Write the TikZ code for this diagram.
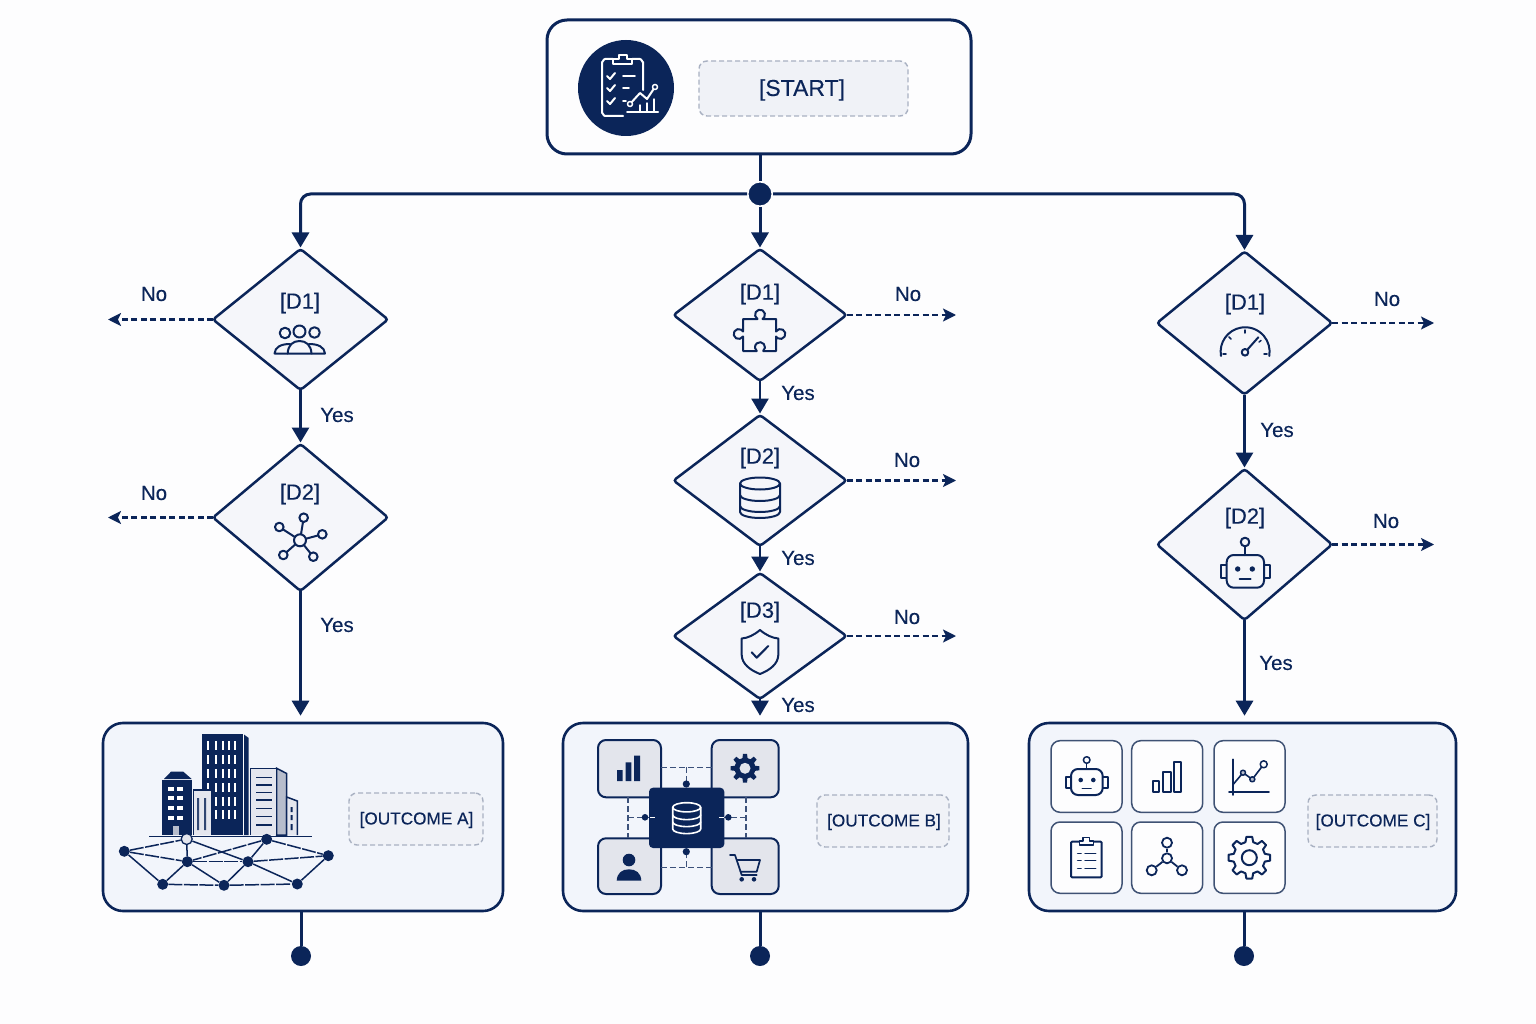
\documentclass[tikz,border=0pt]{standalone}
\usepackage{fontspec}
\setmainfont{Liberation Sans}[FakeBold=0.25]
\usetikzlibrary{shapes.geometric,arrows.meta,calc}
\definecolor{navy}{HTML}{0B2559}
\definecolor{soft}{HTML}{3F5274}
\definecolor{bg}{HTML}{FDFDFE}
\definecolor{dfill}{HTML}{F5F6FA}
\definecolor{ofill}{HTML}{F2F5FB}
\definecolor{lfill}{HTML}{F0F2F7}
\definecolor{dash}{HTML}{A9B1C2}
\definecolor{tile}{HTML}{E3E5EC}
\definecolor{lite}{HTML}{E4E6EE}
\definecolor{side}{HTML}{B7BDCC}
\tikzset{
 dia/.style={shape=diamond,draw=navy,fill=dfill,line width=2.5pt,inner sep=0pt,outer sep=0pt,rounded corners=3pt},
 flow/.style={draw=navy,line width=3pt},
 yesarrow/.style={flow,-{Triangle[length=15pt,width=17pt]}},
 noarrow/.style={draw=navy,line width=2.2pt,dash pattern=on 6pt off 3.5pt,-{Stealth[length=13pt,width=13pt,inset=3pt]}},
 dlabel/.style={text=navy,font=\fontsize{22}{26}\selectfont,inner sep=0pt},
 yn/.style={text=navy,font=\fontsize{20.5}{24}\selectfont,inner sep=0pt},
 phold/.style={draw=dash,fill=lfill,line width=1.4pt,dash pattern=on 5pt off 3pt,rounded corners=8pt,inner sep=0pt},
 ptext/.style={text=navy,inner sep=0pt,font=\fontsize{17.2}{21}\selectfont},
 outbox/.style={draw=navy,fill=ofill,line width=2.6pt,rounded corners=20pt,inner sep=0pt},
 dot/.style={circle,fill=navy,inner sep=0pt,outer sep=0pt,minimum size=20pt},
 ic/.style={draw=navy,line width=2pt,line cap=round,line join=round},
 icw/.style={draw=white,line width=2pt,line cap=round,line join=round},
 nd/.style={circle,fill=navy,inner sep=0pt,minimum size=11pt},
 nl/.style={draw=navy,line width=1.5pt},
 nld/.style={nl,dash pattern=on 14pt off 1.5pt},
 win/.style={fill=white,draw=none},
 tilea/.style={draw=navy,fill=tile,line width=2pt,rounded corners=8pt},
 tileb/.style={draw=soft,fill=bg,line width=1.5pt,rounded corners=9pt},
 link/.style={draw=navy!80,line width=1.1pt,dash pattern=on 6pt off 3pt},
}
\begin{document}
\begin{tikzpicture}[x=1pt,y=-1pt]
\useasboundingbox (0,0) rectangle (1536,1024);
\fill[bg] (0,0) rectangle (1536,1024);

% ---------- start
\node[draw=navy,fill=bg,line width=3pt,rounded corners=20pt,minimum width=424pt,minimum height=134pt,inner sep=0pt] (start) at (759,87) {};
\node[circle,fill=navy,minimum size=96pt,inner sep=0pt] (sicon) at (626,88) {};
\node[phold,minimum width=209pt,minimum height=55pt] (slabel) at (803.5,88.5) {};
\node[ptext,font=\fontsize{23}{27}\selectfont] (stext) at (802,90) {[START]};
% clipboard icon
\draw[icw] (643,90) -- (643,62) to[out=-90,in=0] (640,59) -- (632,59);
\draw[icw] (613,59) -- (605,59) to[out=180,in=-90] (602,62) -- (602,113) to[out=90,in=180] (605,116) -- (623,116);
\draw[icw,fill=navy] (613,64) -- (613,59) -- (619,59) -- (619,55) -- (627,55) -- (627,59) -- (632,59) -- (632,64) -- cycle;
\foreach \yy/\len in {76/12,88/6,101/3}{
 \draw[icw] (607,\yy) -- (610,\yy+3) -- (615,\yy-3);
 \draw[icw,line width=1.6pt] (623,\yy) -- ++(\len,0);
}
\draw[icw] (630,104) -- (640,93) -- (647,99) -- (655,87);
\draw[icw,fill=navy,line width=1.5pt] (630,104) circle[radius=2.5pt] (655,87) circle[radius=2.5pt];
\draw[icw] (627,112) -- (658,112);
\draw[icw,line width=1.4pt] (640,112) -- (640,105) (647,112) -- (647,103) (654,112) -- (654,99);

% ---------- diamonds
\node[dia,minimum width=175pt,minimum height=141pt] (la) at (300.5,319.5) {};
\node[dia,minimum width=175pt,minimum height=147pt] (lb) at (300.5,517.5) {};
\node[dia,minimum width=173pt,minimum height=132pt] (ma) at (760,315) {};
\node[dia,minimum width=173pt,minimum height=131pt] (mb) at (760,480.5) {};
\node[dia,minimum width=173pt,minimum height=126pt] (mc) at (760,636) {};
\node[dia,minimum width=175pt,minimum height=143pt] (ra) at (1244.5,323) {};
\node[dia,minimum width=175pt,minimum height=151pt] (rb) at (1244.5,544.5) {};

\node[dlabel] (tla) at (300,303) {[D1]};
\node[dlabel] (tlb) at (300,494) {[D2]};
\node[dlabel] (tma) at (760,294) {[D1]};
\node[dlabel] (tmb) at (760,458) {[D2]};
\node[dlabel] (tmc) at (760,612) {[D3]};
\node[dlabel] (tra) at (1245,304) {[D1]};
\node[dlabel] (trb) at (1245,518) {[D2]};

% ---------- outcomes
\node[outbox,minimum width=400pt,minimum height=188pt] (oa) at (303,817) {};
\node[outbox,minimum width=405pt,minimum height=188pt] (ob) at (765.5,817) {};
\node[outbox,minimum width=427pt,minimum height=188pt] (oc) at (1242.5,817) {};
\node[phold,minimum width=134pt,minimum height=52pt] (pa) at (416,819) {};
\node[phold,minimum width=132pt,minimum height=52pt] (pb) at (883,821) {};
\node[phold,minimum width=129pt,minimum height=52pt] (pc) at (1372.5,821) {};
\node[ptext] (qa) at (416.5,820) {[OUTCOME A]};
\node[ptext] (qb) at (884,822) {[OUTCOME B]};
\node[ptext] (qc) at (1373,822) {[OUTCOME C]};

% ---------- junction and terminals
\node[circle,fill=navy,draw=bg,line width=3pt,minimum size=26pt,inner sep=0pt,outer sep=0pt] (j) at (760,194) {};
\node[dot] (ta) at (301,956) {};
\node[dot] (tb) at (760,956) {};
\node[dot] (tc) at (1244,956) {};

% ---------- connectors
\draw[flow] (start.south -| j) -- (j);
\draw[yesarrow,rounded corners=10pt,shorten >=1.5pt] (j) -| (la.north);
\draw[yesarrow,shorten >=1.5pt] (j) -- (ma.north);
\draw[yesarrow,rounded corners=10pt,shorten >=1.5pt] (j) -| (ra.north);
\draw[yesarrow,shorten >=1.5pt] (la.south) -- (lb.north);
\draw[yesarrow,shorten >=6pt] (lb.south) -- (oa.north -| lb.south);
\draw[yesarrow,line width=2.6pt,shorten >=1.5pt] (ma.south) -- (mb.north);
\draw[yesarrow,line width=2.6pt,shorten >=1.5pt] (mb.south) -- (mc.north);
\draw[yesarrow,line width=2.6pt,shorten >=6pt] (mc.south) -- (ob.north -| mc.south);
\draw[yesarrow,shorten >=1.5pt] (ra.south) -- (rb.north);
\draw[yesarrow,shorten >=6pt] (rb.south) -- (oc.north -| rb.south);
\draw[flow] (oa.south -| ta) -- (ta);
\draw[flow] (ob.south -| tb) -- (tb);
\draw[flow] (oc.south -| tc) -- (tc);

\coordinate (nla) at (108,319.5);
\coordinate (nlb) at (108,517.5);
\coordinate (nma) at (956,315);
\coordinate (nmb) at (956,480.5);
\coordinate (nmc) at (956,636);
\coordinate (nra) at (1434,323);
\coordinate (nrb) at (1434,544.5);
\draw[noarrow] (la.west) -- (nla);
\draw[noarrow] (lb.west) -- (nlb);
\draw[noarrow] (ma.east) -- (nma);
\draw[noarrow] (mb.east) -- (nmb);
\draw[noarrow] (mc.east) -- (nmc);
\draw[noarrow] (ra.east) -- (nra);
\draw[noarrow] (rb.east) -- (nrb);

\node[yn] (n1) at (154,294) {No};
\node[yn] (n2) at (154,493) {No};
\node[yn] (n3) at (908,294) {No};
\node[yn] (n4) at (907,460) {No};
\node[yn] (n5) at (907,617) {No};
\node[yn] (n6) at (1387,299) {No};
\node[yn] (n7) at (1386,521) {No};
\node[yn] (y1) at (337,415) {Yes};
\node[yn] (y2) at (337,625) {Yes};
\node[yn] (y3) at (798,393) {Yes};
\node[yn] (y4) at (798,558) {Yes};
\node[yn] (y5) at (798,705) {Yes};
\node[yn] (y6) at (1277,430) {Yes};
\node[yn] (y7) at (1276,663) {Yes};

% ---------- diamond icons
% people
\draw[ic] (285,333) circle[radius=5.3pt] (299.5,331.5) circle[radius=6pt] (314.5,332.5) circle[radius=5.3pt];
\draw[ic] (287.7,353.5) -- (274.5,353.5) .. controls (275,347) and (281,344) .. (290,344);
\draw[ic] (311.5,353.5) -- (325,353.5) .. controls (324.5,347) and (318,344) .. (309,344);
\draw[ic] (287.7,353.5) .. controls (288,345) and (293,341) .. (299.5,341) .. controls (306,341) and (311,345) .. (311.5,353.5) -- cycle;
% network
\foreach \xx/\yy in {303.7/517.7,279.3/527,322.3/534.3,283.3/555,313.3/556.7}{
 \draw[ic] (300,540.3) -- (\xx,\yy);
 \draw[ic,fill=dfill] (\xx,\yy) circle[radius=4.3pt];
}
\draw[ic,fill=dfill] (300,540.3) circle[radius=6pt];
% puzzle
\draw[ic] (743,319) -- (757.5,319) arc[start angle=240,end angle=-60,radius=5pt] -- (776,319) -- (776,331.5) arc[start angle=150,end angle=-150,radius=5pt] -- (776,351) -- (763.2,351) arc[start angle=-50,end angle=230,radius=5pt] -- (743,351) -- (743,336.5) arc[start angle=-30,end angle=-330,radius=5pt] -- cycle;
% database
\draw[ic] (760,483.5) ellipse[x radius=20pt,y radius=6pt];
\draw[ic] (740,483.5) -- (740,512) arc[start angle=180,end angle=360,x radius=20pt,y radius=6pt] -- (780,483.5);
\draw[ic] (740,495) arc[start angle=180,end angle=360,x radius=20pt,y radius=6pt];
\draw[ic] (740,506) arc[start angle=180,end angle=360,x radius=20pt,y radius=6pt];
% shield
\draw[ic] (760,630) .. controls (754,635) and (748,638) .. (741.7,638.5) -- (741.7,655) .. controls (742,664) and (750,670) .. (760,674) .. controls (770,670) and (778,664) .. (778.3,655) -- (778.3,638.5) .. controls (772,638) and (766,635) .. (760,630) -- cycle;
\draw[ic] (751.7,652.3) -- (756.7,657.7) -- (768.3,646);
% gauge
\draw[ic] (1221,356) arc[start angle=190,end angle=-10,radius=24.5pt];
\draw[ic,line width=1.5pt] (1245,330) -- (1245,333);
\draw[ic,line width=1.5pt] (1229,337) -- (1231,339);
\draw[ic,line width=1.5pt] (1261,340.5) -- (1259,342);
\draw[ic,line width=1.5pt] (1223,354) -- (1226,354) (1267,354) -- (1264,354);
\draw[ic] (1245,352.3) -- (1258.3,337.3);
\draw[ic,fill=dfill] (1245,352.3) circle[radius=3.3pt];
% robot
\draw[ic,fill=dfill] (1221,565) rectangle (1270,577.7);
\draw[ic,fill=dfill,rounded corners=7pt] (1226.7,555) rectangle (1264,587.7);
\draw[ic] (1245,555) -- (1245,546);
\draw[ic,fill=dfill] (1245,542) circle[radius=4.3pt];
\fill[navy] (1237.7,569) circle[radius=2.7pt] (1252.3,569) circle[radius=2.7pt];
\draw[ic] (1239.5,579) -- (1250.7,579);

% ---------- outcome A
\fill[navy] (202,734) rectangle (243.3,835);
\fill[navy] (243.3,734) -- (248.7,738) -- (248.7,835) -- (243.3,835) -- cycle;
\draw[bg,line width=.8pt] (243.3,734) -- (243.3,835);
\foreach \xx in {208.3,215.7,222.7,229,235}
 \foreach \yy in {741,755,769,783,797,810}
  \fill[win] (\xx-1,\yy) rectangle (\xx+1,\yy+9);
\fill[navy] (164,779) -- (171,771.7) -- (183.3,771.7) -- (191.7,779) -- cycle;
\fill[navy] (162.3,780) rectangle (191.7,835);
\foreach \yy in {786.5,796,805.5,815.5}{
 \fill[win] (168.3,\yy) rectangle (174,\yy+4);
 \fill[win] (177.3,\yy) rectangle (183.3,\yy+4);
}
\fill[side] (173.3,826) rectangle (179.3,835);
\draw[navy,line width=1.5pt,fill=lite] (193.3,835) -- (193.3,790) -- (211.7,790) -- (211.7,835);
\fill[navy!85] (197,798) rectangle (199,830) (204,798) rectangle (206,830);
\draw[navy,line width=1.5pt,fill=side] (276.7,768.3) -- (286.7,773.5) -- (286.7,835) -- (276.7,835) -- cycle;
\draw[navy,line width=1.5pt,fill=lite] (250.7,835) -- (250.7,768.3) -- (276.7,768.3) -- (276.7,835);
\foreach \yy in {777.3,785,792.7,800,808.3,816.7,825}
 \draw[navy,line width=1.5pt] (256,\yy) -- (271.7,\yy);
\draw[navy,line width=1.5pt,fill=lite] (286.7,835) -- (286.7,797) -- (297.3,801) -- (297.3,835);
\fill[navy] (290.5,807) rectangle (292.5,812) (290.5,815) rectangle (292.5,820) (290.5,824) rectangle (292.5,830);
\draw[navy,line width=1.5pt] (149.3,836.3) -- (311.7,836.3);

\node[nd] (g1) at (124.3,851.3) {};
\node[circle,draw=navy,fill=lite,line width=1.3pt,inner sep=0pt,minimum size=11pt] (g2) at (186.7,839) {};
\node[nd] (g3) at (266.7,839.3) {};
\node[nd] (g4) at (328.3,855.7) {};
\node[nd] (g5) at (187.3,861.7) {};
\node[nd] (g6) at (248,861.7) {};
\node[nd] (g7) at (162.7,884.3) {};
\node[nd] (g8) at (224,885.3) {};
\node[nd] (g9) at (297.3,884) {};
\draw[nld] (g1) -- (g2);
\draw[nld] (g1) -- (g5);
\draw[nl] (g1) -- (g7);
\draw[nl] (g2) -- (g5);
\draw[nl] (g2) -- (g6);
\draw[nld] (g3) -- (g5);
\draw[nl] (g3) -- (g6);
\draw[nld] (g3) -- (g4);
\draw[nld] (g5) -- (g6);
\draw[nld] (g6) -- (g4);
\draw[nl] (g5) -- (g7);
\draw[nl] (g5) -- (g8);
\draw[nl] (g6) -- (g8);
\draw[nl] (g6) -- (g9);
\draw[nl] (g4) -- (g9);
\draw[nld] (g7) -- (g8);
\draw[nld] (g8) -- (g9);

% ---------- outcome B
\draw[tilea] (598,740) rectangle (661,797.3);
\draw[tilea] (711.7,740) rectangle (778.7,797.3);
\draw[tilea] (598,838.3) rectangle (661,894);
\draw[tilea] (711.7,838.3) rectangle (778.7,894);
\draw[link] (661,767.3) -- (711.7,767.3);
\draw[link] (661,867.3) -- (711.7,867.3);
\draw[link] (686.3,767.3) -- (686.3,785);
\draw[link] (686.3,867.3) -- (686.3,850);
\draw[link] (628,797.3) -- (628,838.3);
\draw[link] (746,797.3) -- (746,838.3);
\draw[link] (628,817.3) -- (650,817.3);
\draw[link] (746,817.3) -- (724,817.3);
\fill[navy,rounded corners=4pt] (649,787.7) rectangle (724.3,848);
\fill[navy] (686.3,784) circle[radius=3.6pt] (686.3,851.7) circle[radius=3.6pt] (645,817.3) circle[radius=3.3pt] (728.3,817.3) circle[radius=3.3pt];
\draw[white,line width=1.2pt] (650,817.3) -- (655,817.3) (724,817.3) -- (719,817.3);
\fill[navy] (617,770) rectangle (622.7,781) (625.7,762.3) rectangle (631.3,781) (634,755.7) rectangle (640,781);
\begin{scope}[shift={(745,768.3)}]
 \fill[navy] (-14:10.5) \foreach \a in {0,45,...,315}{ -- (\a-14:10.5) -- (\a-8:14.5) -- (\a+8:14.5) -- (\a+14:10.5)} -- cycle;
 \fill[tile] (0,0) circle[radius=5.5pt];
\end{scope}
\fill[navy] (629,860) circle[radius=6.3pt];
\fill[navy] (616.7,880.7) .. controls (617,873) and (622,869.3) .. (629,869.3) .. controls (636,869.3) and (641,873) .. (641.3,880.7) -- cycle;
\draw[ic,line width=1.7pt] (730,855) -- (735,855) -- (741.7,875) -- (756.7,875);
\draw[ic,line width=1.7pt] (736.7,860) -- (760,860) -- (756.7,871.7) -- (740.5,871.7);
\fill[navy] (741.7,879.3) circle[radius=2.3pt] (754,879.3) circle[radius=2.3pt];
\draw[icw,line width=1.6pt] (686.7,807.3) ellipse[x radius=14pt,y radius=4.6pt];
\draw[icw,line width=1.6pt] (672.7,807.3) -- (672.7,829) arc[start angle=180,end angle=360,x radius=14pt,y radius=4.6pt] -- (700.7,807.3);
\draw[icw,line width=1.6pt] (672.7,815) arc[start angle=180,end angle=360,x radius=14pt,y radius=4.6pt];
\draw[icw,line width=1.6pt] (672.7,822) arc[start angle=180,end angle=360,x radius=14pt,y radius=4.6pt];

% ---------- outcome C
\draw[tileb] (1051,740.7) rectangle (1122,812.3);
\draw[tileb] (1131.7,740.7) rectangle (1202.7,812.3);
\draw[tileb] (1214,740.7) rectangle (1285,812.3);
\draw[tileb] (1051,822) rectangle (1122,893.3);
\draw[tileb] (1131.7,822) rectangle (1202.7,893.3);
\draw[tileb] (1214,822) rectangle (1285,893.3);
% robot
\draw[ic] (1066.3,776.7) rectangle (1108,788.3);
\draw[ic,fill=bg,rounded corners=7pt] (1071,769) rectangle (1102.7,795);
\draw[ic,line width=1.5pt] (1086.7,769) -- (1086.7,763.5);
\draw[ic,line width=1.5pt] (1086.7,760) circle[radius=3.3pt];
\fill[navy] (1080.7,780) circle[radius=2.3pt] (1093.3,780) circle[radius=2.3pt];
\draw[ic,line width=1.5pt] (1082.3,788.3) -- (1091,788.3);
% bars
\draw[ic] (1152.7,780.7) rectangle (1159.3,792.3);
\draw[ic] (1163.3,772.3) rectangle (1170.7,792.3);
\draw[ic] (1174,762.3) rectangle (1181.3,792.3);
% chart
\draw[ic,line width=1.6pt] (1232.7,759.3) -- (1232.7,795) (1229,791.7) -- (1269,791.7);
\draw[ic,line width=1.6pt] (1232.7,785) -- (1243,772.7) -- (1252.3,779.3) -- (1263.7,764.3);
\draw[ic,line width=1.5pt,fill=side] (1243,772.7) circle[radius=2.5pt] (1252.3,779.3) circle[radius=2.5pt];
\draw[ic,line width=1.5pt,fill=bg] (1263.7,764.3) circle[radius=3.5pt];
% clipboard
\draw[ic,rounded corners=1pt] (1071,841.7) rectangle (1101.7,877.3);
\draw[ic,fill=bg,line width=1.6pt] (1079.3,845) -- (1079.3,841) -- (1083,841) -- (1083,837.5) -- (1089.5,837.5) -- (1089.5,841) -- (1093.3,841) -- (1093.3,845) -- cycle;
\foreach \yy in {853.3,860.7,868.3}{
 \draw[ic,line width=1.5pt] (1077.7,\yy) -- (1081,\yy);
 \draw[ic,line width=1.5pt] (1085,\yy) -- (1095.7,\yy);
}
% network
\node[circle,draw=navy,line width=1.8pt,fill=bg,inner sep=0pt,minimum size=10pt] (hc) at (1167,858.3) {};
\node[circle,draw=navy,line width=1.8pt,fill=bg,inner sep=0pt,minimum size=10pt] (ht) at (1167,842.7) {};
\node[circle,draw=navy,line width=1.8pt,fill=bg,inner sep=0pt,minimum size=10pt] (hl) at (1151.7,870.3) {};
\node[circle,draw=navy,line width=1.8pt,fill=bg,inner sep=0pt,minimum size=10pt] (hr) at (1182,870.3) {};
\draw[navy,line width=1.8pt] (hc) -- (ht);
\draw[navy,line width=1.8pt] (hc) -- (hl);
\draw[navy,line width=1.8pt] (hc) -- (hr);
% gear
\begin{scope}[shift={(1249.3,857.7)}]
 \draw[ic] (-14:16) \foreach \a in {0,45,...,315}{ -- (\a-14:16) -- (\a-8:21) -- (\a+8:21) -- (\a+14:16)} -- cycle;
 \draw[ic] (0,0) circle[radius=7.5pt];
\end{scope}
\end{tikzpicture}
\end{document}
